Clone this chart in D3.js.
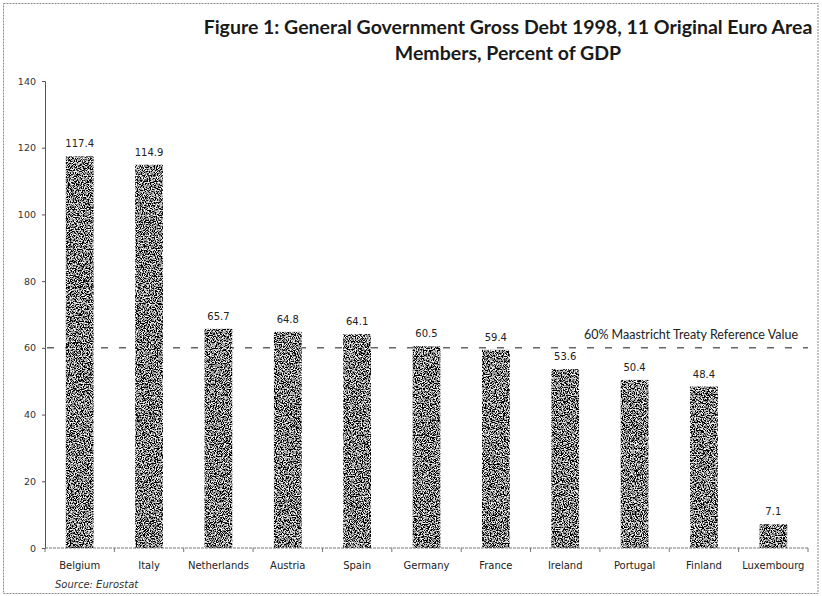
<!DOCTYPE html>
<html>
<head>
<meta charset="utf-8">
<script src="https://cdn.jsdelivr.net/npm/d3@7"></script>
<style>
  html, body { margin: 0; padding: 0; background: #fff; }
  svg { display: block; }
</style>
</head>
<body>
<svg id="chart" width="822" height="596"></svg>
<script>
// General government gross debt, 1998 (% of GDP)
const countries = ["Belgium", "Italy", "Netherlands", "Austria", "Spain", "Germany",
                   "France", "Ireland", "Portugal", "Finland", "Luxembourg"];
const debt = [117.4, 114.9, 65.7, 64.8, 64.1, 60.5, 59.4, 53.6, 50.4, 48.4, 7.1];
const yTicks = [0, 20, 40, 60, 80, 100, 120, 140];
const referenceValue = 60;
const referenceLabel = "60% Maastricht Treaty Reference Value";
const titleLines = ["Figure 1: General Government Gross Debt 1998, 11 Original Euro Area",
                    "Members, Percent of GDP"];
const sourceNote = "Source: Eurostat";

const W = 822, H = 596;
const margin = { left: 45, right: 14, top: 81, bottom: 48 };
const svg = d3.select("#chart");

// grainy fill for the bars
const defs = svg.append("defs");
const f = defs.append("filter").attr("id", "grain")
  .attr("x", 0).attr("y", 0).attr("width", 1).attr("height", 1);
f.append("feTurbulence").attr("type", "fractalNoise")
  .attr("baseFrequency", 0.85).attr("numOctaves", 2).attr("seed", 7).attr("result", "noise");
f.append("feColorMatrix").attr("in", "noise").attr("type", "matrix")
  .attr("values", "4 0 0 0 -1.75  4 0 0 0 -1.75  4 0 0 0 -1.75  0 0 0 0 1")
  .attr("result", "g");
f.append("feComposite").attr("in", "g").attr("in2", "SourceGraphic").attr("operator", "in");

// outer frame
svg.append("rect").attr("x", 3.5).attr("y", 3.5).attr("width", W - 7.5).attr("height", H - 6)
  .attr("fill", "#fff").attr("stroke", "#8a8a8a").attr("stroke-dasharray", "2,1");

const x = d3.scaleBand().domain(countries)
  .range([margin.left, W - margin.right]).paddingInner(0.6).paddingOuter(0.3);
const y = d3.scaleLinear().domain([0, 140]).range([H - margin.bottom, margin.top]);

// title
svg.append("g").selectAll("text").data(titleLines).join("text")
  .attr("x", 508).attr("y", (d, i) => 34 + i * 26)
  .attr("text-anchor", "middle")
  .attr("font-family", "Lato, 'Open Sans', sans-serif").attr("font-weight", 700)
  .attr("font-size", 19.5).attr("fill", "#1a1a1a")
  .text(d => d);

// y axis
const yAxis = svg.append("g").attr("transform", `translate(${margin.left},0)`)
  .call(d3.axisLeft(y).tickValues(yTicks).tickSize(3).tickPadding(6));
yAxis.select(".domain").attr("stroke", "#555");
yAxis.selectAll(".tick line").attr("stroke", "#555");
yAxis.selectAll("text").attr("font-family", "'DejaVu Sans', sans-serif")
  .attr("font-size", 9.5).attr("fill", "#333");

// reference line
svg.append("line")
  .attr("x1", margin.left + 2).attr("x2", W - margin.right)
  .attr("y1", y(referenceValue)).attr("y2", y(referenceValue))
  .attr("stroke", "#666").attr("stroke-width", 1.5).attr("stroke-dasharray", "7,11");
svg.append("text").attr("x", 798).attr("y", y(referenceValue) - 9)
  .attr("text-anchor", "end")
  .attr("font-family", "Lato, sans-serif").attr("font-size", 12.5).attr("fill", "#222")
  .text(referenceLabel);

// bars
svg.append("g").selectAll("rect").data(countries).join("rect")
  .attr("x", d => x(d)).attr("width", x.bandwidth())
  .attr("y", (d, i) => y(debt[i])).attr("height", (d, i) => y(0) - y(debt[i]))
  .attr("fill", "#5e5e5e").attr("filter", "url(#grain)");

// value labels
svg.append("g").selectAll("text").data(countries).join("text")
  .attr("x", d => x(d) + x.bandwidth() / 2)
  .attr("y", (d, i) => y(debt[i]) - 9)
  .attr("text-anchor", "middle")
  .attr("font-family", "'DejaVu Sans', sans-serif").attr("font-size", 10).attr("fill", "#222")
  .text((d, i) => d3.format(".1f")(debt[i]));

// x axis with ticks at the category boundaries
const xAxisG = svg.append("g").attr("transform", `translate(0,${y(0)})`);
xAxisG.append("line").attr("x1", margin.left).attr("x2", W - margin.right)
  .attr("stroke", "#777").attr("stroke-dasharray", "3,1");
const bounds = d3.range(countries.length + 1).map(i => margin.left + i * (W - margin.right - margin.left) / countries.length);
xAxisG.selectAll(".b").data(bounds).join("line").attr("class", "b")
  .attr("x1", d => d).attr("x2", d => d).attr("y1", 0).attr("y2", 4).attr("stroke", "#777");
xAxisG.selectAll(".lbl").data(countries).join("text").attr("class", "lbl")
  .attr("x", d => x(d) + x.bandwidth() / 2).attr("y", 21)
  .attr("text-anchor", "middle")
  .attr("font-family", "'DejaVu Sans', sans-serif").attr("font-size", 10).attr("fill", "#222")
  .text(d => d);

// source
svg.append("text").attr("x", 55).attr("y", 588)
  .attr("font-family", "'DejaVu Sans', sans-serif").attr("font-style", "italic")
  .attr("font-size", 10).attr("fill", "#333")
  .text(sourceNote);
</script>
</body>
</html>
